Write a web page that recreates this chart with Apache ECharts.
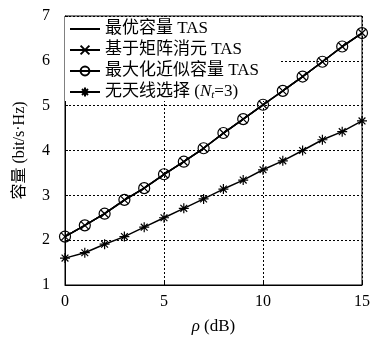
<!DOCTYPE html>
<html><head><meta charset="utf-8">
<script src="https://cdn.jsdelivr.net/npm/echarts@6/dist/echarts.min.js"></script>
<style>html,body{margin:0;padding:0;background:#fff}#c{width:373px;height:340px}</style>
</head><body><div id="c"></div>
<script>
var snr = [0,1,2,3,4,5,6,7,8,9,10,11,12,13,14,15];
var optimalTAS = [2.08,2.33,2.59,2.89,3.16,3.46,3.75,4.05,4.38,4.70,5.02,5.33,5.65,5.98,6.31,6.62];
var matrixTAS  = [2.08,2.33,2.59,2.90,3.16,3.47,3.75,4.05,4.39,4.70,5.02,5.33,5.65,5.98,6.32,6.62];
var approxTAS  = [2.08,2.33,2.59,2.90,3.16,3.47,3.75,4.05,4.39,4.70,5.02,5.33,5.65,5.98,6.32,6.62];
var noSelect   = [1.60,1.72,1.91,2.08,2.29,2.50,2.71,2.92,3.14,3.34,3.57,3.77,4.00,4.24,4.42,4.66];
var seriesNames = ['最优容量 TAS','基于矩阵消元 TAS','最大化近似容量 TAS','无天线选择 (N_t=3)'];
var xTicks = [0,5,10,15];
var yTicks = [1,2,3,4,5,6,7];

var FONT = "'Liberation Serif','DejaVu Serif','Noto Sans CJK SC',serif";
function pairs(v){ return snr.map(function(x,i){ return [x, v[i]]; }); }
var crossPath = 'path://M0,0L10,10M10,0L0,10';
var circlePath = 'path://M10,5A5,5 0 1 1 0,5A5,5 0 1 1 10,5Z';
var starPath = 'path://M5,0L5,10M0,5L10,5M1.6,1.6L8.4,8.4M8.4,1.6L1.6,8.4';

var chart = echarts.init(document.getElementById('c'), null, {renderer:'canvas'});
chart.setOption({
  animation:false,
  backgroundColor:'#fff',
  textStyle:{fontFamily:FONT,color:'#000'},
  grid:{left:65,right:6,top:16,bottom:55,show:true,borderColor:'#000',borderWidth:1,backgroundColor:'transparent'},
  legend:{
    orient:'vertical', left:65, top:17,
    padding:[3,20,0,4], itemGap:3, itemWidth:30, itemHeight:11,
    backgroundColor:'#fff',
    data:[
      {name:seriesNames[0], itemStyle:{opacity:0}},
      {name:seriesNames[1]},
      {name:seriesNames[2]},
      {name:seriesNames[3]}
    ],
    textStyle:{fontFamily:FONT,fontSize:17,color:'#000',lineHeight:18,
      rich:{i:{fontStyle:'italic',fontFamily:FONT,fontSize:17},sub:{fontStyle:'italic',fontFamily:FONT,fontSize:11,verticalAlign:'bottom',padding:[6,0,0,0]}}},
    formatter:function(n){
      if(n.indexOf('N_t')>=0){ return '无天线选择 ({i|N}{sub|t}=3)'; }
      return n;
    }
  },
  xAxis:{
    type:'value', min:0, max:15, interval:5,
    name:'{i|ρ} (dB)', nameLocation:'middle', nameGap:33,
    nameTextStyle:{fontFamily:FONT,fontSize:17,color:'#000',rich:{i:{fontStyle:'italic',fontFamily:FONT,fontSize:17}}},
    axisLine:{lineStyle:{color:'#000',width:1}},
    axisTick:{inside:true,length:3,lineStyle:{color:'#000'}},
    axisLabel:{fontFamily:FONT,fontSize:16,color:'#000',margin:9,
      formatter:function(v){ return xTicks.indexOf(v)>=0 ? String(v) : ''; }},
    splitLine:{show:true,lineStyle:{color:'#000',type:[2,2],width:1}}
  },
  yAxis:{
    type:'value', min:1, max:7, interval:1,
    name:'容量 (bit/s·Hz)', nameLocation:'middle', nameGap:37, nameRotate:90,
    nameTextStyle:{fontFamily:FONT,fontSize:16,color:'#000'},
    axisLine:{show:true,lineStyle:{color:'#000',width:1}},
    axisTick:{inside:true,length:3,lineStyle:{color:'#000'}},
    axisLabel:{fontFamily:FONT,fontSize:16,color:'#000',margin:15,
      formatter:function(v){ return yTicks.indexOf(v)>=0 ? String(v) : ''; }},
    splitLine:{show:true,lineStyle:{color:'#000',type:[2,2],width:1}}
  },
  series:[
    {name:seriesNames[0],type:'line',data:pairs(optimalTAS),symbol:'none',
      lineStyle:{color:'#000',width:1.5},itemStyle:{color:'#000'},z:3},
    {name:seriesNames[1],type:'line',data:pairs(matrixTAS),symbol:crossPath,symbolSize:8,showSymbol:true,
      lineStyle:{color:'#000',width:1.5},itemStyle:{color:'#000',borderColor:'#000',borderWidth:1.2},z:4},
    {name:seriesNames[2],type:'line',data:pairs(approxTAS),symbol:circlePath,symbolSize:11,showSymbol:true,
      lineStyle:{color:'#000',width:1.5},itemStyle:{color:'rgba(0,0,0,0)',borderColor:'#000',borderWidth:1.2},z:5},
    {name:seriesNames[3],type:'line',data:pairs(noSelect),symbol:starPath,symbolSize:10,showSymbol:true,
      lineStyle:{color:'#000',width:1.5},itemStyle:{color:'#000',borderColor:'#000',borderWidth:1.2},z:4}
  ]
});
</script></body></html>
